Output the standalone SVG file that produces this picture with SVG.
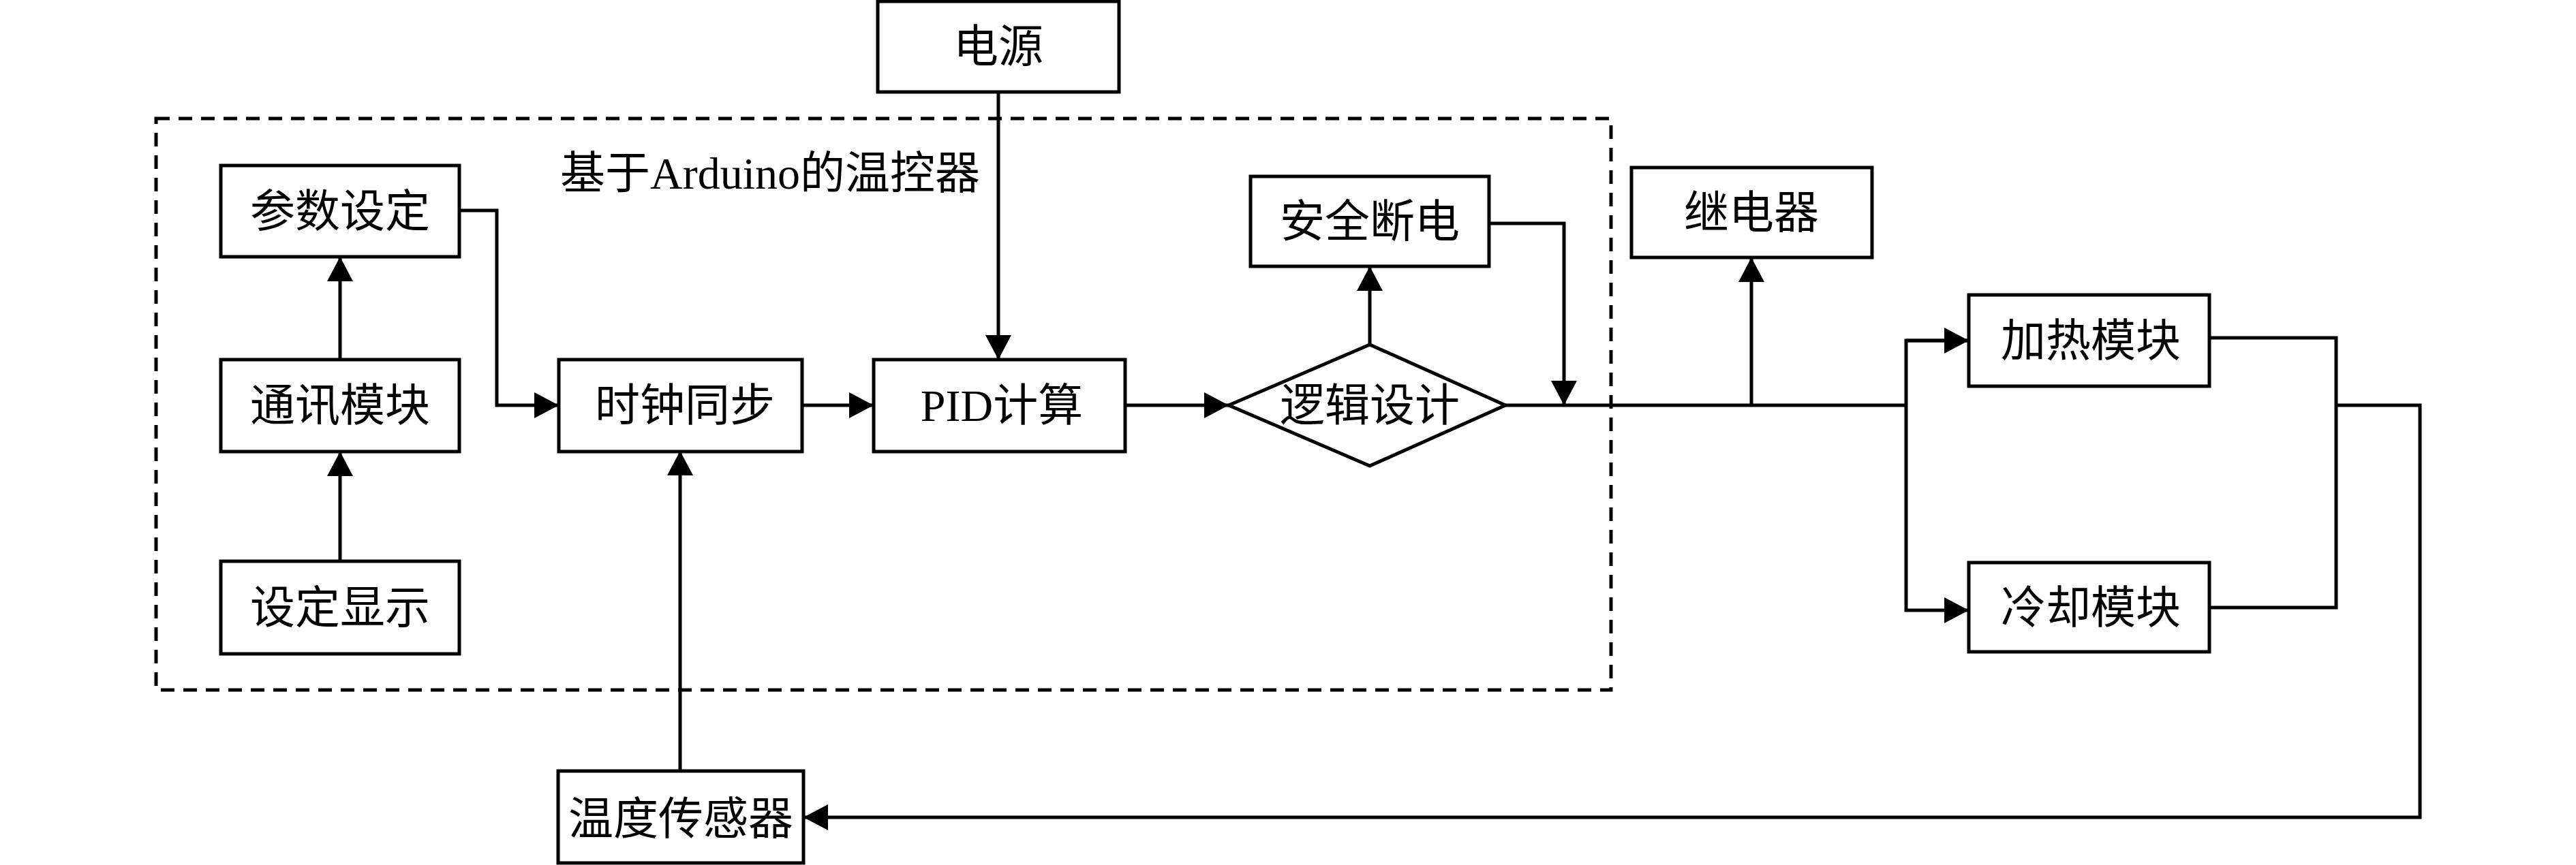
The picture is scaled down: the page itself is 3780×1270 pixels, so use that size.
<svg xmlns="http://www.w3.org/2000/svg" width="3780" height="1270" viewBox="0 0 3780 1270">
<style>
.box{fill:#fff;stroke:#000;stroke-width:5}
.t{font-family:"Liberation Serif","Noto Sans CJK SC",serif;font-size:66px;fill:#000;text-anchor:middle;dominant-baseline:central}
.c{fill:none;stroke:#000;stroke-width:5}
.a{marker-end:url(#arr)}
.dash{fill:none;stroke:#000;stroke-width:5;stroke-dasharray:20 13}
</style>
<defs>
<marker id="arr" markerUnits="userSpaceOnUse" markerWidth="38" markerHeight="40" refX="36" refY="19" orient="auto">
<path d="M0,0 L36,19 L0,38 Z" fill="#000"/>
</marker>
</defs>
<rect width="3780" height="1270" fill="#fff"/>
<g id="controller-boundary">
<rect class="dash" x="229" y="174" width="2135" height="839"/>
<text class="t" x="1130" y="254">基于Arduino的温控器</text>
</g>
<g id="connectors">
<line class="c a" x1="1465" y1="135" x2="1465" y2="528"/>
<line class="c a" x1="499" y1="824" x2="499" y2="663"/>
<line class="c a" x1="499" y1="528" x2="499" y2="377"/>
<polyline class="c a" points="674,309 729,309 729,595 820,595"/>
<line class="c a" x1="1177" y1="595" x2="1282" y2="595"/>
<line class="c a" x1="1651" y1="595" x2="1803" y2="595"/>
<line class="c a" x1="2010" y1="506" x2="2010" y2="391"/>
<polyline class="c a" points="2185,328 2295,328 2295,595"/>
<line class="c" x1="2209" y1="595" x2="2797" y2="595"/>
<line class="c a" x1="2570" y1="595" x2="2570" y2="378"/>
<polyline class="c a" points="2889,500 2797,500 2797,896 2889,896"/>
<line class="c a" x1="2797" y1="500" x2="2889" y2="500"/>
<polyline class="c" points="3242,496 3428,496 3428,892 3242,892"/>
<polyline class="c a" points="3428,595 3551,595 3551,1200 1179,1200"/>
<line class="c a" x1="998" y1="1132" x2="998" y2="662"/>
</g>
<g id="power"><rect class="box" x="1288" y="2" width="354" height="133"/><text class="t" x="1465" y="68">电源</text></g>
<g id="param-set"><rect class="box" x="324" y="243" width="350" height="134"/><text class="t" x="499" y="310">参数设定</text></g>
<g id="comm"><rect class="box" x="324" y="528" width="350" height="135"/><text class="t" x="499" y="595">通讯模块</text></g>
<g id="display"><rect class="box" x="324" y="824" width="350" height="136"/><text class="t" x="499" y="892">设定显示</text></g>
<g id="clock"><rect class="box" x="820" y="528" width="357" height="135"/><text class="t" x="1005" y="595">时钟同步</text></g>
<g id="pid"><rect class="box" x="1282" y="528" width="369" height="135"/><text class="t" x="1470" y="595">PID计算</text></g>
<g id="logic"><polygon class="box" points="1803,595 2010,506 2209,595 2010,684"/><text class="t" x="2010" y="595">逻辑设计</text></g>
<g id="safety"><rect class="box" x="1835" y="259" width="350" height="132"/><text class="t" x="2010" y="325">安全断电</text></g>
<g id="relay"><rect class="box" x="2394" y="246" width="353" height="132"/><text class="t" x="2570" y="312">继电器</text></g>
<g id="heater"><rect class="box" x="2889" y="433" width="353" height="134"/><text class="t" x="3068" y="500">加热模块</text></g>
<g id="cooler"><rect class="box" x="2889" y="826" width="353" height="131"/><text class="t" x="3068" y="892">冷却模块</text></g>
<g id="sensor"><rect class="box" x="819" y="1132" width="360" height="135"/><text class="t" x="999" y="1202">温度传感器</text></g>
</svg>
